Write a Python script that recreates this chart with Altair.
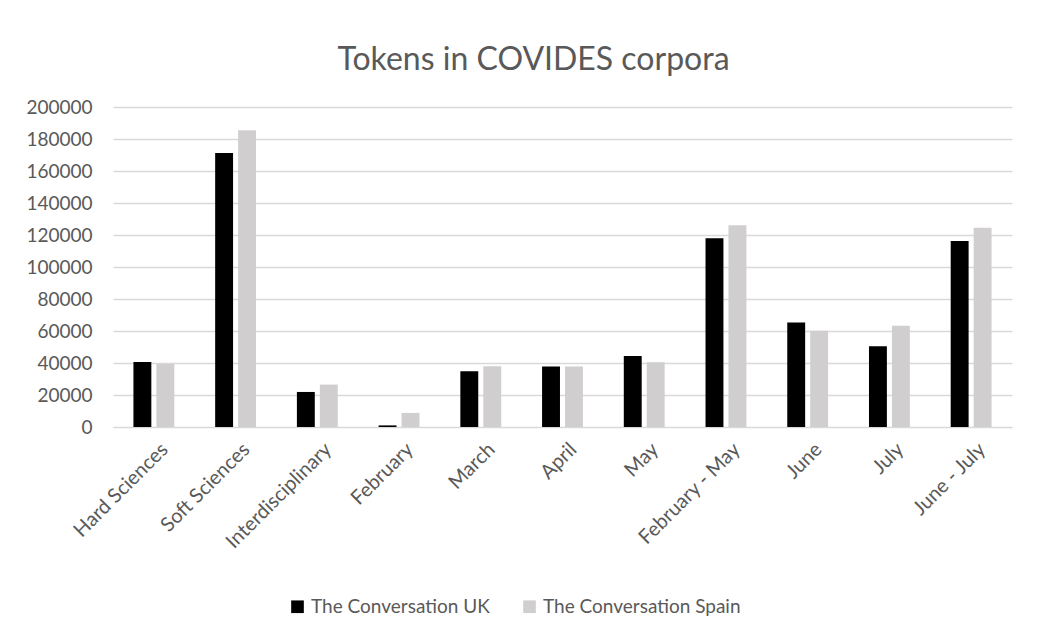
import altair as alt
import pandas as pd

categories = ["Hard Sciences", "Soft Sciences", "Interdisciplinary", "February", "March",
              "April", "May", "February - May", "June", "July", "June - July"]
uk = [40700, 171200, 21900, 1000, 34900, 37800, 44300, 118000, 65300, 50500, 116300]
spain = [39300, 185400, 26500, 8800, 38000, 37800, 40500, 126100, 60100, 63300, 124600]
series = ["The Conversation UK", "The Conversation Spain"]
colors = ["#000000", "#d0cece"]
y_ticks = list(range(0, 200001, 20000))

rows = []
for c, a, b in zip(categories, uk, spain):
    rows.append({"category": c, "series": series[0], "value": a})
    rows.append({"category": c, "series": series[1], "value": b})
df = pd.DataFrame(rows)

FONT = "Lato"
GREY_TXT = "#595959"

chart = alt.Chart(df).mark_bar().encode(
    x=alt.X("category:N", sort=categories,
            scale=alt.Scale(paddingInner=0.5, paddingOuter=0.25),
            axis=alt.Axis(title=None, labelAngle=-45, labelAlign="right", labelBaseline="top",
                          labelFontSize=20, labelColor=GREY_TXT, labelFont=FONT,
                          ticks=False, domain=True, domainColor="#d9d9d9", labelPadding=12,
                          labelOffset=4)),
    xOffset=alt.XOffset("series:N", sort=series, scale=alt.Scale(paddingInner=0.22)),
    y=alt.Y("value:Q", scale=alt.Scale(domain=[0, 200000]),
            axis=alt.Axis(title=None, values=y_ticks, format="d", labelFontSize=19,
                          labelColor=GREY_TXT, labelFont=FONT, ticks=False, domain=False,
                          gridColor="#d9d9d9", gridWidth=1.3, labelPadding=21)),
    color=alt.Color("series:N", sort=series,
                    scale=alt.Scale(domain=series, range=colors),
                    legend=alt.Legend(title=None, orient="none", direction="horizontal",
                                      legendX=175, legendY=490, symbolType="square",
                                      symbolSize=160, symbolStrokeWidth=0,
                                      labelFontSize=19, labelColor=GREY_TXT, labelFont=FONT,
                                      labelLimit=0, columnPadding=30, symbolOffset=0)),
).properties(
    width=899, height=320,
    title=alt.TitleParams("Tokens in COVIDES corpora", fontSize=32, font=FONT,
                          color=GREY_TXT, fontWeight="normal", anchor="middle", dx=-29,
                          offset=21),
    padding={"left": 105, "top": 99, "right": 18, "bottom": 200},
    autosize=alt.AutoSizeParams(type="none"),
).configure(background="white").configure_view(stroke=None)

chart.save("out.html", embed_options={"renderer": "svg", "actions": False})
